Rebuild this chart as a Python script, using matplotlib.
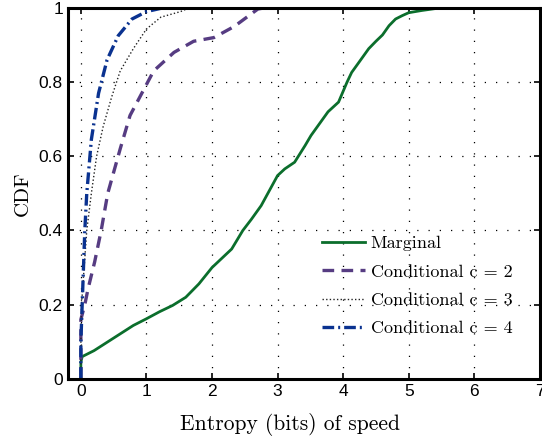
import matplotlib.pyplot as plt
from matplotlib.ticker import FixedLocator

# Marginal (green, solid)
marg_x = [0.0, 0.0, 0.02, 0.2, 0.5, 0.8, 1.0, 1.2, 1.4, 1.6, 1.8, 2.0, 2.15, 2.3, 2.47,
          2.6, 2.75, 3.0, 3.11, 3.26, 3.42, 3.51, 3.77, 3.93, 4.06, 4.13, 4.24, 4.39,
          4.5, 4.6, 4.7, 4.8, 4.9, 5.0, 5.2, 5.48]
marg_y = [0.0, 0.045, 0.06, 0.076, 0.11, 0.144, 0.162, 0.181, 0.198, 0.22, 0.256, 0.30,
          0.325, 0.35, 0.40, 0.43, 0.467, 0.548, 0.566, 0.584, 0.629, 0.656, 0.72,
          0.746, 0.80, 0.826, 0.853, 0.89, 0.91, 0.927, 0.952, 0.97, 0.979, 0.987,
          0.993, 1.0]

# Conditional c = 2 (purple, dashed)
c2_x = [0.0, 0.0, 0.06, 0.11, 0.21, 0.31, 0.41, 0.6, 0.75, 0.93, 1.11, 1.42, 1.72, 2.03,
        2.34, 2.7, 2.8]
c2_y = [0.0, 0.16, 0.2, 0.243, 0.315, 0.40, 0.50, 0.62, 0.71, 0.77, 0.83, 0.88, 0.91,
        0.92, 0.95, 0.997, 1.0]

# Conditional c = 3 (black, dotted)
c3_x = [0.0, 0.0, 0.01, 0.05, 0.09, 0.16, 0.24, 0.34, 0.47, 0.6, 0.8, 1.0, 1.22, 1.52, 1.65]
c3_y = [0.0, 0.1, 0.2, 0.3, 0.4, 0.5, 0.60, 0.68, 0.76, 0.83, 0.89, 0.943, 0.975, 0.99, 1.0]

# Conditional c = 4 (blue, dash-dot)
c4_x = [0.0, 0.0, 0.02, 0.04, 0.06, 0.09, 0.16, 0.27, 0.40, 0.57, 0.78, 1.0, 1.25]
c4_y = [0.0, 0.1, 0.2, 0.3, 0.4, 0.5, 0.645, 0.77, 0.86, 0.925, 0.97, 0.99, 1.0]

x_ticks = [0, 1, 2, 3, 4, 5, 6, 7]
y_ticks = [0, 0.2, 0.4, 0.6, 0.8, 1]
y_tick_labels = ["0", "0.2", "0.4", "0.6", "0.8", "1"]

plt.rcParams["font.family"] = ["Liberation Sans", "DejaVu Sans"]

fig = plt.figure(figsize=(5.42, 4.38), dpi=100)
ax = fig.add_axes([0.125, 0.135, 0.871, 0.847])

ax.plot(marg_x, marg_y, color="#0b6e2c", lw=2.0, label="Marginal")
ax.plot(c2_x, c2_y, color="#563c82", lw=2.4, dashes=(3.5, 2.2), label="Conditional c = 2")
ax.plot(c3_x, c3_y, color="#222222", lw=1.0, dashes=(1, 1.6), label="Conditional c = 3")
ax.plot(c4_x, c4_y, color="#0a3290", lw=2.4, dashes=(3.5, 1.2, 0.6, 1.2), label="Conditional c = 4")

ax.set_xlim(-0.2, 7)
ax.set_ylim(0, 1)
ax.xaxis.set_major_locator(FixedLocator(x_ticks))
ax.set_yticks(y_ticks)
ax.set_yticklabels(y_tick_labels)
ax.tick_params(direction="in", top=True, right=True, labelsize=12.5, length=4, width=1.2)
for s in ax.spines.values():
    s.set_linewidth(2.2)

ax.grid(True, color="black", linestyle=(0, (1, 8)), linewidth=0.9)

ax.set_xlabel("Entropy (bits) of speed", family="cmr10", fontsize=15.5, va="center")
ax.xaxis.set_label_coords(0.47, -0.124)
ax.set_ylabel("CDF", family="cmr10", fontsize=15, labelpad=5)

ax.legend(loc="upper left", bbox_to_anchor=(0.512, 0.42), frameon=False,
          prop={"family": "cmr10", "size": 13}, handlelength=2.4,
          handletextpad=0.3, labelspacing=0.7, borderpad=0.2)

fig.savefig("out.png", dpi=100)
